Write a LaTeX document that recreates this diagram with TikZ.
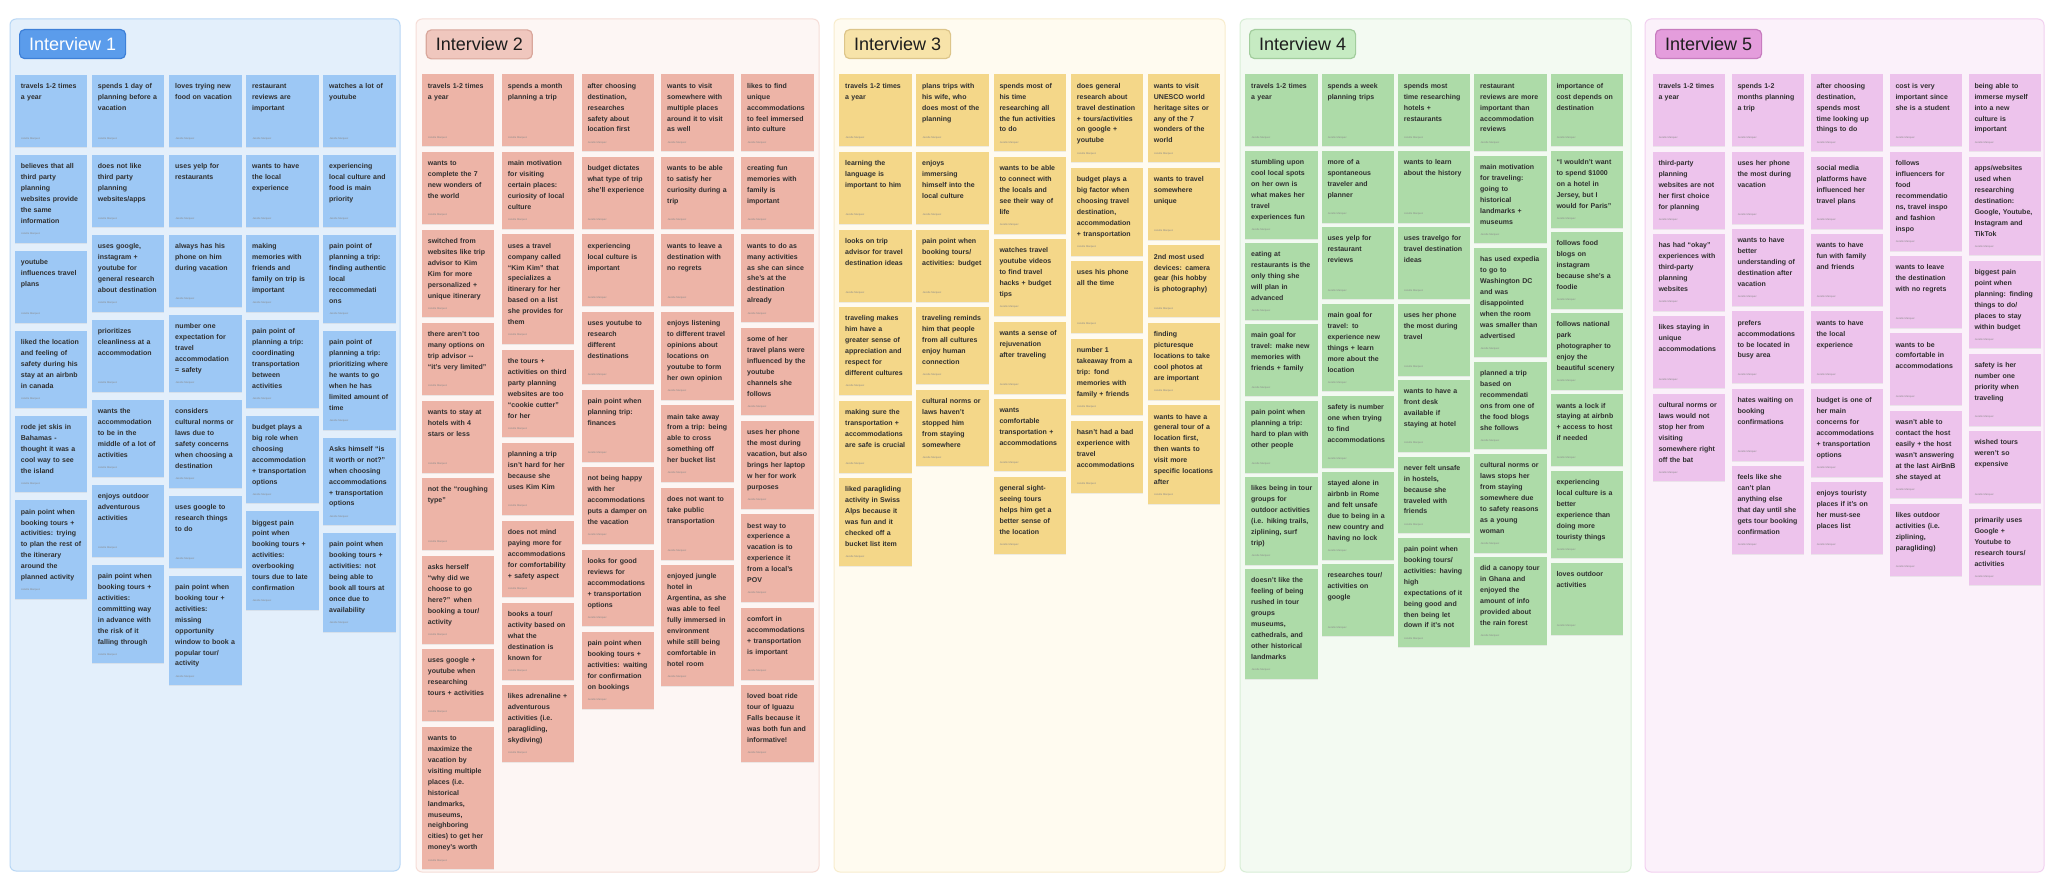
\documentclass[tikz,border=0pt]{standalone}
\usepackage{fontspec}
\setmainfont{Liberation Sans}
\usetikzlibrary{positioning, shadows}

\definecolor{inktext}{HTML}{2F2F2F}
\definecolor{authorgray}{HTML}{8A8A8A}
\definecolor{headingtext}{HTML}{1D1D1D}
\definecolor{blueboard}{HTML}{E3EFFB}
\definecolor{blueline}{HTML}{B8D7F5}
\definecolor{bluenote}{HTML}{9DC8F5}
\definecolor{bluetitle}{HTML}{5B9CEB}
\definecolor{bluetitleline}{HTML}{3E80D8}
\definecolor{salmonboard}{HTML}{FDF6F4}
\definecolor{salmonline}{HTML}{F6DDD7}
\definecolor{salmonnote}{HTML}{EDB4A7}
\definecolor{salmontitle}{HTML}{F0C7BE}
\definecolor{salmontitleline}{HTML}{D9A79C}
\definecolor{yellowboard}{HTML}{FFFBF0}
\definecolor{yellowline}{HTML}{F8EDCD}
\definecolor{yellownote}{HTML}{F4D789}
\definecolor{yellowtitle}{HTML}{F7E3A9}
\definecolor{yellowtitleline}{HTML}{DDC58A}
\definecolor{greenboard}{HTML}{F3FAF2}
\definecolor{greenline}{HTML}{D8EED6}
\definecolor{greennote}{HTML}{ADDBA8}
\definecolor{greentitle}{HTML}{C6EBC2}
\definecolor{greentitleline}{HTML}{A2CD9D}
\definecolor{pinkboard}{HTML}{FBF1FA}
\definecolor{pinkline}{HTML}{F2D0F0}
\definecolor{pinknote}{HTML}{EDC3EC}
\definecolor{pinktitle}{HTML}{E49DDC}
\definecolor{pinktitleline}{HTML}{C77CBF}

\newcommand\notefont{\fontsize{7pt}{10.95pt}\selectfont\bfseries}
\newcommand\authorfont{\fontsize{2.6pt}{3pt}\selectfont}

\begin{document}
\begin{tikzpicture}[x=1pt, y=1pt]

\tikzset{board/.style = {draw=#1line, fill=#1board, line width=1pt, rounded corners=6pt}}
\tikzset{heading/.style = {draw=#1titleline, fill=#1title, line width=1.2pt, rounded corners=5pt,
  minimum width=106pt, minimum height=29pt, inner sep=0pt, anchor=north west,
  text=headingtext, font=\fontsize{18pt}{20pt}\selectfont}}
\tikzset{author/.style = {anchor=west, inner sep=0pt, xshift=6.3pt, yshift=9pt,
  text width=, text height=, text depth=, font=\authorfont, text=authorgray}}
\tikzset{note/.style = {text width=60.3pt, inner xsep=6pt, inner ysep=6pt,
  text height=7.67pt, text depth=52.33pt, font=\notefont, text=inktext,
  execute at begin node={\raggedright\rightskip=0pt plus 1fil minus 20pt\relax},
  drop shadow={opacity=0.13, shadow xshift=0pt, shadow yshift=-1pt},
  label={[author]south west:Jezelle Marquez}}}
\tikzset{nl/.code = {\pgfmathsetmacro\notedepth{2.33+10.95*#1}\tikzset{text depth/.expanded=\notedepth pt}}}

\fill[white] (0,0) rectangle (2054,-888);
\useasboundingbox (0,0) rectangle (2054,-888);

% interview 1
\draw[board=blue] (10,-19) rectangle (400,-871);
\node[heading=blue, text=white] (h1) at (19,-29) {Interview 1};
\begin{scope}[node distance=7.6pt, note/.append style={fill=bluenote}]
\node[note, anchor=north west] (a11) at (14.7,-75) {travels 1-2 times\\ a year};
\node[note, nl=6, below=of a11] (a12) {believes that all\\ third party\\ planning\\ websites provide\\ the same\\ information};
\node[note, below=of a12] (a13) {youtube\\ influences travel\\ plans};
\node[note, nl=5, below=of a13] (a14) {liked the location\\ and feeling of\\ safety during his\\ stay at an airbnb\\ in canada};
\node[note, nl=5, below=of a14] (a15) {rode jet skis in\\ Bahamas -\\ thought it was a\\ cool way to see\\ the island};
\node[note, nl=7, below=of a15] (a16) {pain point when\\ booking tours +\\ activities: trying\\ to plan the rest of\\ the itinerary\\ around the\\ planned activity};

\node[note, anchor=north west] (a21) at (91.7,-75) {spends 1 day of\\ planning before a\\ vacation};
\node[note, below=of a21] (a22) {does not like\\ third party\\ planning\\ websites/apps};
\node[note, nl=5, below=of a22] (a23) {uses google,\\ instagram +\\ youtube for\\ general research\\ about destination};
\node[note, below=of a23] (a24) {prioritizes\\ cleanliness at a\\ accommodation};
\node[note, nl=5, below=of a24] (a25) {wants the\\ accommodation\\ to be in the\\ middle of a lot of\\ activities};
\node[note, below=of a25] (a26) {enjoys outdoor\\ adventurous\\ activities};
\node[note, nl=7, below=of a26] (a27) {pain point when\\ booking tours +\\ activities:\\ committing way\\ in advance with\\ the risk of it\\ falling through};

\node[note, anchor=north west] (a31) at (169,-75) {loves trying new\\ food on vacation};
\node[note, below=of a31] (a32) {uses yelp for\\ restaurants};
\node[note, below=of a32] (a33) {always has his\\ phone on him\\ during vacation};
\node[note, nl=5, below=of a33] (a34) {number one\\ expectation for\\ travel\\ accommodation\\ = safety};
\node[note, nl=6, below=of a34] (a35) {considers\\ cultural norms or\\ laws due to\\ safety concerns\\ when choosing a\\ destination};
\node[note, below=of a35] (a36) {uses google to\\ research things\\ to do};
\node[note, nl=8, below=of a36] (a37) {pain point when\\ booking tour +\\ activities:\\ missing\\ opportunity\\ window to book a\\ popular tour/\\ activity};

\node[note, anchor=north west] (a41) at (246,-75) {restaurant\\ reviews are\\ important};
\node[note, below=of a41] (a42) {wants to have\\ the local\\ experience};
\node[note, nl=5, below=of a42] (a43) {making\\ memories with\\ friends and\\ family on trip is\\ important};
\node[note, nl=6, below=of a43] (a44) {pain point of\\ planning a trip:\\ coordinating\\ transportation\\ between\\ activities};
\node[note, nl=6, below=of a44] (a45) {budget plays a\\ big role when\\ choosing\\ accommodation\\ + transportation\\ options};
\node[note, nl=7, below=of a45] (a46) {biggest pain\\ point when\\ booking tours +\\ activities:\\ overbooking\\ tours due to late\\ confirmation};

\node[note, anchor=north west] (a51) at (323,-75) {watches a lot of\\ youtube};
\node[note, below=of a51] (a52) {experiencing\\ local culture and\\ food is main\\ priority};
\node[note, nl=6, below=of a52] (a53) {pain point of\\ planning a trip:\\ finding authentic\\ local\\ reccommedati\\ ons};
\node[note, nl=7, below=of a53] (a54) {pain point of\\ planning a trip:\\ prioritizing where\\ he wants to go\\ when he has\\ limited amount of\\ time};
\node[note, nl=6, below=of a54] (a55) {Asks himself “is\\ it worth or not?”\\ when choosing\\ accommodations\\ + transportation\\ options};
\node[note, nl=7, below=of a55] (a56) {pain point when\\ booking tours +\\ activities: not\\ being able to\\ book all tours at\\ once due to\\ availability};
\end{scope}

% interview 2
\draw[board=salmon] (416,-19) rectangle (819,-872);
\node[heading=salmon] (h2) at (425.7,-29.3) {Interview 2};
\begin{scope}[node distance=5.2pt, note/.append style={fill=salmonnote}]
\node[note, anchor=north west] (b11) at (421.7,-74.3) {travels 1-2 times\\ a year};
\node[note, below=of b11] (b12) {wants to\\ complete the 7\\ new wonders of\\ the world};
\node[note, nl=6, below=of b12] (b13) {switched from\\ websites like trip\\ advisor to Kim\\ Kim for more\\ personalized +\\ unique itinerary};
\node[note, below=of b13] (b14) {there aren't too\\ many options on\\ trip advisor -{}-\\ “it's very limited”};
\node[note, below=of b14] (b15) {wants to stay at\\ hotels with 4\\ stars or less};
\node[note, below=of b15] (b16) {not the “roughing\\ type”};
\node[note, nl=6, below=of b16] (b17) {asks herself\\ “why did we\\ choose to go\\ here?” when\\ booking a tour/\\ activity};
\node[note, below=of b17] (b18) {uses google +\\ youtube when\\ researching\\ tours + activities};
\node[note, nl=11, below=of b18] (b19) {wants to\\ maximize the\\ vacation by\\ visiting multiple\\ places (i.e.\\ historical\\ landmarks,\\ museums,\\ neighboring\\ cities) to get her\\ money's worth};

\node[note, anchor=north west] (b21) at (501.7,-74.3) {spends a month\\ planning a trip};
\node[note, nl=5, below=of b21] (b22) {main motivation\\ for visiting\\ certain places:\\ curiosity of local\\ culture};
\node[note, nl=8, below=of b22] (b23) {uses a travel\\ company called\\ “Kim Kim” that\\ specializes a\\ itinerary for her\\ based on a list\\ she provides for\\ them};
\node[note, nl=6, below=of b23] (b24) {the tours +\\ activities on third\\ party planning\\ websites are too\\ “cookie cutter”\\ for her};
\node[note, below=of b24] (b25) {planning a trip\\ isn't hard for her\\ because she\\ uses Kim Kim};
\node[note, nl=5, below=of b25] (b26) {does not mind\\ paying more for\\ accommodations\\ for comfortability\\ + safety aspect};
\node[note, nl=5, below=of b26] (b27) {books a tour/\\ activity based on\\ what the\\ destination is\\ known for};
\node[note, nl=5, below=of b27] (b28) {likes adrenaline +\\ adventurous\\ activities (i.e.\\ paragliding,\\ skydiving)};

\node[note, nl=5, anchor=north west] (b31) at (581.3,-74.3) {after choosing\\ destination,\\ researches\\ safety about\\ location first};
\node[note, below=of b31] (b32) {budget dictates\\ what type of trip\\ she'll experience};
\node[note, below=of b32] (b33) {experiencing\\ local culture is\\ important};
\node[note, below=of b33] (b34) {uses youtube to\\ research\\ different\\ destinations};
\node[note, below=of b34] (b35) {pain point when\\ planning trip:\\ finances};
\node[note, nl=5, below=of b35] (b36) {not being happy\\ with her\\ accommodations\\ puts a damper on\\ the vacation};
\node[note, nl=5, below=of b36] (b37) {looks for good\\ reviews for\\ accommodations\\ + transportation\\ options};
\node[note, nl=5, below=of b37] (b38) {pain point when\\ booking tours +\\ activities: waiting\\ for confirmation\\ on bookings};

\node[note, nl=5, anchor=north west] (b41) at (661,-74.3) {wants to visit\\ somewhere with\\ multiple places\\ around it to visit\\ as well};
\node[note, below=of b41] (b42) {wants to be able\\ to satisfy her\\ curiosity during a\\ trip};
\node[note, below=of b42] (b43) {wants to leave a\\ destination with\\ no regrets};
\node[note, nl=6, below=of b43] (b44) {enjoys listening\\ to different travel\\ opinions about\\ locations on\\ youtube to form\\ her own opinion};
\node[note, nl=5, below=of b44] (b45) {main take away\\ from a trip: being\\ able to cross\\ something off\\ her bucket list};
\node[note, below=of b45] (b46) {does not want to\\ take public\\ transportation};
\node[note, nl=9, below=of b46] (b47) {enjoyed jungle\\ hotel in\\ Argentina, as she\\ was able to feel\\ fully immersed in\\ environment\\ while still being\\ comfortable in\\ hotel room};

\node[note, nl=5, anchor=north west] (b51) at (741,-74.3) {likes to find\\ unique\\ accommodations\\ to feel immersed\\ into culture};
\node[note, below=of b51] (b52) {creating fun\\ memories with\\ family is\\ important};
\node[note, nl=6, below=of b52] (b53) {wants to do as\\ many activities\\ as she can since\\ she's at the\\ destination\\ already};
\node[note, nl=6, below=of b53] (b54) {some of her\\ travel plans were\\ influenced by the\\ youtube\\ channels she\\ follows};
\node[note, nl=6, below=of b54] (b55) {uses her phone\\ the most during\\ vacation, but also\\ brings her laptop\\ w her for work\\ purposes};
\node[note, nl=6, below=of b55] (b56) {best way to\\ experience a\\ vacation is to\\ experience it\\ from a local's\\ POV};
\node[note, below=of b56] (b57) {comfort in\\ accommodations\\ + transportation\\ is important};
\node[note, nl=5, below=of b57] (b58) {loved boat ride\\ tour of Iguazu\\ Falls because it\\ was both fun and\\ informative!};
\end{scope}

% interview 3
\draw[board=yellow] (834,-19) rectangle (1225,-872);
\node[heading=yellow] (h3) at (844,-29) {Interview 3};
\begin{scope}[node distance=5.2pt, note/.append style={fill=yellownote}]
\node[note, anchor=north west] (c11) at (839,-74.3) {travels 1-2 times\\ a year};
\node[note, below=of c11] (c12) {learning the\\ language is\\ important to him};
\node[note, below=of c12] (c13) {looks on trip\\ advisor for travel\\ destination ideas};
\node[note, nl=6, below=of c13] (c14) {traveling makes\\ him have a\\ greater sense of\\ appreciation and\\ respect for\\ different cultures};
\node[note, below=of c14] (c15) {making sure the\\ transportation +\\ accommodations\\ are safe is crucial};
\node[note, nl=6, below=of c15] (c16) {liked paragliding\\ activity in Swiss\\ Alps because it\\ was fun and it\\ checked off a\\ bucket list item};

\node[note, anchor=north west] (c21) at (916,-74.3) {plans trips with\\ his wife, who\\ does most of the\\ planning};
\node[note, below=of c21] (c22) {enjoys\\ immersing\\ himself into the\\ local culture};
\node[note, below=of c22] (c23) {pain point when\\ booking tours/\\ activities: budget};
\node[note, nl=5, below=of c23] (c24) {traveling reminds\\ him that people\\ from all cultures\\ enjoy human\\ connection};
\node[note, nl=5, below=of c24] (c25) {cultural norms or\\ laws haven't\\ stopped him\\ from staying\\ somewhere};

\node[note, nl=5, anchor=north west] (c31) at (993.3,-74.3) {spends most of\\ his time\\ researching all\\ the fun activities\\ to do};
\node[note, nl=5, below=of c31] (c32) {wants to be able\\ to connect with\\ the locals and\\ see their way of\\ life};
\node[note, nl=5, below=of c32] (c33) {watches travel\\ youtube videos\\ to find travel\\ hacks + budget\\ tips};
\node[note, below=of c33] (c34) {wants a sense of\\ rejuvenation\\ after traveling};
\node[note, below=of c34] (c35) {wants\\ comfortable\\ transportation +\\ accommodations};
\node[note, nl=5, below=of c35] (c36) {general sight-\\ seeing tours\\ helps him get a\\ better sense of\\ the location};

\node[note, nl=6, anchor=north west] (c41) at (1070.7,-74.3) {does general\\ research about\\ travel destination\\ + tours/activities\\ on google +\\ youtube};
\node[note, nl=6, below=of c41] (c42) {budget plays a\\ big factor when\\ choosing travel\\ destination,\\ accommodation\\ + transportation};
\node[note, below=of c42] (c43) {uses his phone\\ all the time};
\node[note, nl=5, below=of c43] (c44) {number 1\\ takeaway from a\\ trip: fond\\ memories with\\ family + friends};
\node[note, below=of c44] (c45) {hasn't had a bad\\ experience with\\ travel\\ accommodations};

\node[note, nl=6, anchor=north west] (c51) at (1147.7,-74.3) {wants to visit\\ UNESCO world\\ heritage sites or\\ any of the 7\\ wonders of the\\ world};
\node[note, below=of c51] (c52) {wants to travel\\ somewhere\\ unique};
\node[note, below=of c52] (c53) {2nd most used\\ devices: camera\\ gear (his hobby\\ is photography)};
\node[note, nl=5, below=of c53] (c54) {finding\\ picturesque\\ locations to take\\ cool photos at\\ are important};
\node[note, nl=7, below=of c54] (c55) {wants to have a\\ general tour of a\\ location first,\\ then wants to\\ visit more\\ specific locations\\ after};
\end{scope}

% interview 4
\draw[board=green] (1240,-19) rectangle (1631,-872);
\node[heading=green] (h4) at (1249,-29) {Interview 4};
\begin{scope}[node distance=4pt, note/.append style={fill=greennote}]
\node[note, anchor=north west] (d11) at (1245,-74.3) {travels 1-2 times\\ a year};
\node[note, nl=6, below=of d11] (d12) {stumbling upon\\ cool local spots\\ on her own is\\ what makes her\\ travel\\ experiences fun};
\node[note, nl=5, below=of d12] (d13) {eating at\\ restaurants is the\\ only thing she\\ will plan in\\ advanced};
\node[note, below=of d13] (d14) {main goal for\\ travel: make new\\ memories with\\ friends + family};
\node[note, below=of d14] (d15) {pain point when\\ planning a trip:\\ hard to plan with\\ other people};
\node[note, nl=6, below=of d15] (d16) {likes being in tour\\ groups for\\ outdoor activities\\ (i.e. hiking trails,\\ ziplining, surf\\ trip)};
\node[note, nl=8, below=of d16] (d17) {doesn't like the\\ feeling of being\\ rushed in tour\\ groups\\ museums,\\ cathedrals, and\\ other historical\\ landmarks};

\node[note, anchor=north west] (d21) at (1321.3,-74.3) {spends a week\\ planning trips};
\node[note, below=of d21] (d22) {more of a\\ spontaneous\\ traveler and\\ planner};
\node[note, below=of d22] (d23) {uses yelp for\\ restaurant\\ reviews};
\node[note, nl=6, below=of d23] (d24) {main goal for\\ travel: to\\ experience new\\ things + learn\\ more about the\\ location};
\node[note, below=of d24] (d25) {safety is number\\ one when trying\\ to find\\ accommodations};
\node[note, nl=6, below=of d25] (d26) {stayed alone in\\ airbnb in Rome\\ and felt unsafe\\ due to being in a\\ new country and\\ having no lock};
\node[note, below=of d26] (d27) {researches tour/\\ activities on\\ google};

\node[note, anchor=north west] (d31) at (1397.7,-74.3) {spends most\\ time researching\\ hotels +\\ restaurants};
\node[note, below=of d31] (d32) {wants to learn\\ about the history};
\node[note, below=of d32] (d33) {uses travelgo for\\ travel destination\\ ideas};
\node[note, below=of d33] (d34) {uses her phone\\ the most during\\ travel};
\node[note, below=of d34] (d35) {wants to have a\\ front desk\\ available if\\ staying at hotel};
\node[note, nl=5, below=of d35] (d36) {never felt unsafe\\ in hostels,\\ because she\\ traveled with\\ friends};
\node[note, nl=8, below=of d36] (d37) {pain point when\\ booking tours/\\ activities: having\\ high\\ expectations of it\\ being good and\\ then being let\\ down if it's not};

\node[note, nl=5, anchor=north west] (d41) at (1474,-74.3) {restaurant\\ reviews are more\\ important than\\ accommodation\\ reviews};
\node[note, nl=6, below=of d41] (d42) {main motivation\\ for traveling:\\ going to\\ historical\\ landmarks +\\ museums};
\node[note, nl=8, below=of d42] (d43) {has used expedia\\ to go to\\ Washington DC\\ and was\\ disappointed\\ when the room\\ was smaller than\\ advertised};
\node[note, nl=6, below=of d43] (d44) {planned a trip\\ based on\\ recommendati\\ ons from one of\\ the food blogs\\ she follows};
\node[note, nl=7, below=of d44] (d45) {cultural norms or\\ laws stops her\\ from staying\\ somewhere due\\ to safety reasons\\ as a young\\ woman};
\node[note, nl=6, below=of d45] (d46) {did a canopy tour\\ in Ghana and\\ enjoyed the\\ amount of info\\ provided about\\ the rain forest};

\node[note, anchor=north west] (d51) at (1550.3,-74.3) {importance of\\ cost depends on\\ destination};
\node[note, nl=5, below=of d51] (d52) {“I wouldn't want\\ to spend \$1000\\ on a hotel in\\ Jersey, but I\\ would for Paris”};
\node[note, nl=5, below=of d52] (d53) {follows food\\ blogs on\\ instagram\\ because she's a\\ foodie};
\node[note, nl=5, below=of d53] (d54) {follows national\\ park\\ photographer to\\ enjoy the\\ beautiful scenery};
\node[note, below=of d54] (d55) {wants a lock if\\ staying at airbnb\\ + access to host\\ if needed};
\node[note, nl=6, below=of d55] (d56) {experiencing\\ local culture is a\\ better\\ experience than\\ doing more\\ touristy things};
\node[note, below=of d56] (d57) {loves outdoor\\ activities};
\end{scope}

% interview 5
\draw[board=pink] (1645,-19) rectangle (2044,-872);
\node[heading=pink] (h5) at (1655,-29) {Interview 5};
\begin{scope}[node distance=5pt, note/.append style={fill=pinknote}]
\node[note, anchor=north west] (e11) at (1652.3,-74.3) {travels 1-2 times\\ a year};
\node[note, nl=5, below=of e11] (e12) {third-party\\ planning\\ websites are not\\ her first choice\\ for planning};
\node[note, nl=5, below=of e12] (e13) {has had “okay”\\ experiences with\\ third-party\\ planning\\ websites};
\node[note, below=of e13] (e14) {likes staying in\\ unique\\ accommodations};
\node[note, nl=6, below=of e14] (e15) {cultural norms or\\ laws would not\\ stop her from\\ visiting\\ somewhere right\\ off the bat};

\node[note, anchor=north west] (e21) at (1731.3,-74.3) {spends 1-2\\ months planning\\ a trip};
\node[note, below=of e21] (e22) {uses her phone\\ the most during\\ vacation};
\node[note, nl=5, below=of e22] (e23) {wants to have\\ better\\ understanding of\\ destination after\\ vacation};
\node[note, below=of e23] (e24) {prefers\\ accommodations\\ to be located in\\ busy area};
\node[note, below=of e24] (e25) {hates waiting on\\ booking\\ confirmations};
\node[note, nl=6, below=of e25] (e26) {feels like she\\ can't plan\\ anything else\\ that day until she\\ gets tour booking\\ confirmation};

\node[note, nl=5, anchor=north west] (e31) at (1810.3,-74.3) {after choosing\\ destination,\\ spends most\\ time looking up\\ things to do};
\node[note, below=of e31] (e32) {social media\\ platforms have\\ influenced her\\ travel plans};
\node[note, below=of e32] (e33) {wants to have\\ fun with family\\ and friends};
\node[note, below=of e33] (e34) {wants to have\\ the local\\ experience};
\node[note, nl=6, below=of e34] (e35) {budget is one of\\ her main\\ concerns for\\ accommodations\\ + transportation\\ options};
\node[note, below=of e35] (e36) {enjoys touristy\\ places if it's on\\ her must-see\\ places list};

\node[note, anchor=north west] (e41) at (1889.3,-74.3) {cost is very\\ important since\\ she is a student};
\node[note, nl=7, below=of e41] (e42) {follows\\ influencers for\\ food\\ recommendatio\\ ns, travel inspo\\ and fashion\\ inspo};
\node[note, below=of e42] (e43) {wants to leave\\ the destination\\ with no regrets};
\node[note, below=of e43] (e44) {wants to be\\ comfortable in\\ accommodations};
\node[note, nl=6, below=of e44] (e45) {wasn't able to\\ contact the host\\ easily + the host\\ wasn't answering\\ at the last AirBnB\\ she stayed at};
\node[note, below=of e45] (e46) {likes outdoor\\ activities (i.e.\\ ziplining,\\ paragliding)};

\node[note, nl=5, anchor=north west] (e51) at (1968.3,-74.3) {being able to\\ immerse myself\\ into a new\\ culture is\\ important};
\node[note, nl=7, below=of e51] (e52) {apps/websites\\ used when\\ researching\\ destination:\\ Google, Youtube,\\ Instagram and\\ TikTok};
\node[note, nl=6, below=of e52] (e53) {biggest pain\\ point when\\ planning: finding\\ things to do/\\ places to stay\\ within budget};
\node[note, below=of e53] (e54) {safety is her\\ number one\\ priority when\\ traveling};
\node[note, below=of e54] (e55) {wished tours\\ weren't so\\ expensive};
\node[note, nl=5, below=of e55] (e56) {primarily uses\\ Google +\\ Youtube to\\ research tours/\\ activities};
\end{scope}

\end{tikzpicture}
\end{document}
